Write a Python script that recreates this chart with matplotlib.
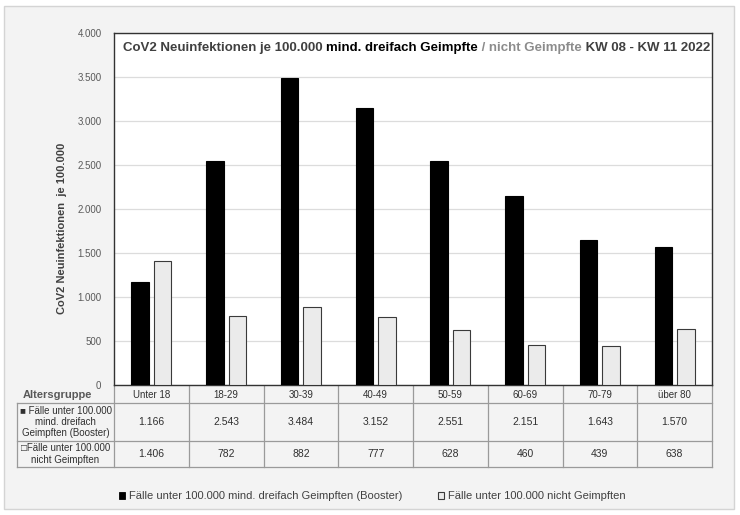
import matplotlib
matplotlib.use("Agg")
import matplotlib.pyplot as plt
from matplotlib.patches import Rectangle, Patch
import numpy as np

plt.rcParams['font.family'] = ['Liberation Sans', 'DejaVu Sans']

# data
altersgruppen = ["Unter 18", "18-29", "30-39", "40-49", "50-59", "60-69", "70-79", "über 80"]
booster = [1166, 2543, 3484, 3152, 2551, 2151, 1643, 1570]
ungeimpft = [1406, 782, 882, 777, 628, 460, 439, 638]
label_booster = "Fälle unter 100.000 mind. dreifach Geimpften (Booster)"
label_ungeimpft = "Fälle unter 100.000 nicht Geimpften"
yticks = np.arange(0, 4001, 500)


def de(v):
    return f"{v:,}".replace(",", ".")


W, H = 740, 515
fig = plt.figure(figsize=(W / 100, H / 100), dpi=100, facecolor="white")

# background / table layer in pixel coords
bg = fig.add_axes([0, 0, 1, 1], zorder=-1)
bg.set_xlim(0, W)
bg.set_ylim(H, 0)
bg.axis("off")
bg.add_patch(Rectangle((4, 6), 730, 503, facecolor="#f3f3f3", edgecolor="#d4d4d4", lw=1))

# bar chart
L, R, T, B = 114, 712, 33, 385
ax = fig.add_axes([L / W, 1 - B / H, (R - L) / W, (B - T) / H], zorder=1)
ax.set_facecolor("white")
x = np.arange(len(altersgruppen))
bw, gap = 0.235, 0.067
ax.bar(x - (bw + gap) / 2, booster, width=bw, color="black", edgecolor="black", lw=0.8, zorder=3)
ax.bar(x + (bw + gap) / 2, ungeimpft, width=bw, color="#ebebeb", edgecolor="#3a3a3a", lw=0.8, zorder=3)
ax.set_xlim(-0.5, len(altersgruppen) - 0.5)
ax.set_ylim(0, 4000)
ax.set_yticks(yticks)
ax.set_yticklabels([de(int(v)) for v in yticks], fontsize=7, color="#595959")
ax.set_xticks([])
ax.tick_params(axis="y", length=0, pad=9)
ax.grid(axis="y", color="#dcdcdc", lw=0.9, zorder=0)
for s in ax.spines.values():
    s.set_color("#333333")
    s.set_linewidth(1.0)

# title with mixed colours
tkw = dict(fontsize=9.5, fontweight="bold", va="bottom", ha="left")
t1 = ax.text(0.015, 0.94, "CoV2 Neuinfektionen je 100.000 ", transform=ax.transAxes,
             color="#404040", **tkw)
t2 = ax.annotate("mind. dreifach Geimpfte", xy=(1, 0), xycoords=t1, color="black", **tkw)
t3 = ax.annotate(" / nicht Geimpfte", xy=(1, 0), xycoords=t2, color="#8c8c8c", **tkw)
ax.annotate(" KW 08 - KW 11 2022", xy=(1, 0), xycoords=t3, color="#404040", **tkw)

fig.text(62 / W, 1 - 228 / H, "CoV2 Neuinfektionen  je 100.000", rotation=90,
         ha="center", va="center", fontsize=8, fontweight="bold", color="#404040")

# data table
colw = (R - L) / len(altersgruppen)
rows = [B, 403, 441, 467]
lc = "#9a9a9a"
left = 17
bg.plot([left, R], [rows[1], rows[1]], color=lc, lw=0.9)
bg.plot([left, R], [rows[2], rows[2]], color=lc, lw=0.9)
bg.plot([left, R], [rows[3], rows[3]], color=lc, lw=0.9)
for i in range(len(altersgruppen) + 1):
    bg.plot([L + i * colw] * 2, [rows[0], rows[3]], color=lc, lw=0.9)
bg.plot([left, left], [rows[1], rows[3]], color=lc, lw=0.9)

tab_kw = dict(ha="center", va="center", color="#303030")
for i, name in enumerate(altersgruppen):
    cx = L + (i + 0.5) * colw
    bg.text(cx, (rows[0] + rows[1]) / 2 + 1, name, fontsize=7, **tab_kw)
    bg.text(cx, (rows[1] + rows[2]) / 2, de(booster[i]), fontsize=7.5, **tab_kw)
    bg.text(cx, (rows[2] + rows[3]) / 2, de(ungeimpft[i]), fontsize=7.5, **tab_kw)

bg.text(57, 395, "Altersgruppe", ha="center", va="center", fontsize=8,
        fontweight="bold", color="#595959")
bg.text((left + L) / 2, (rows[1] + rows[2]) / 2,
        "■ Fälle unter 100.000\nmind. dreifach\nGeimpften (Booster)",
        ha="center", va="center", multialignment="center", fontsize=7,
        color="#303030", linespacing=1.15)
bg.text((left + L) / 2, (rows[2] + rows[3]) / 2,
        "□Fälle unter 100.000\nnicht Geimpften",
        ha="center", va="center", multialignment="center", fontsize=7,
        color="#303030", linespacing=1.15)

# legend
handles = [Patch(facecolor="black", edgecolor="black", lw=0.6),
           Patch(facecolor="#ebebeb", edgecolor="#3a3a3a", lw=0.8)]
fig.legend(handles, [label_booster, label_ungeimpft], loc="center",
           bbox_to_anchor=(372 / W, 1 - 496 / H), ncol=2, frameon=False,
           fontsize=8, labelcolor="#404040", handlelength=0.6, handleheight=0.6,
           handletextpad=0.3, columnspacing=3.2)

fig.savefig("out.png", dpi=100)
